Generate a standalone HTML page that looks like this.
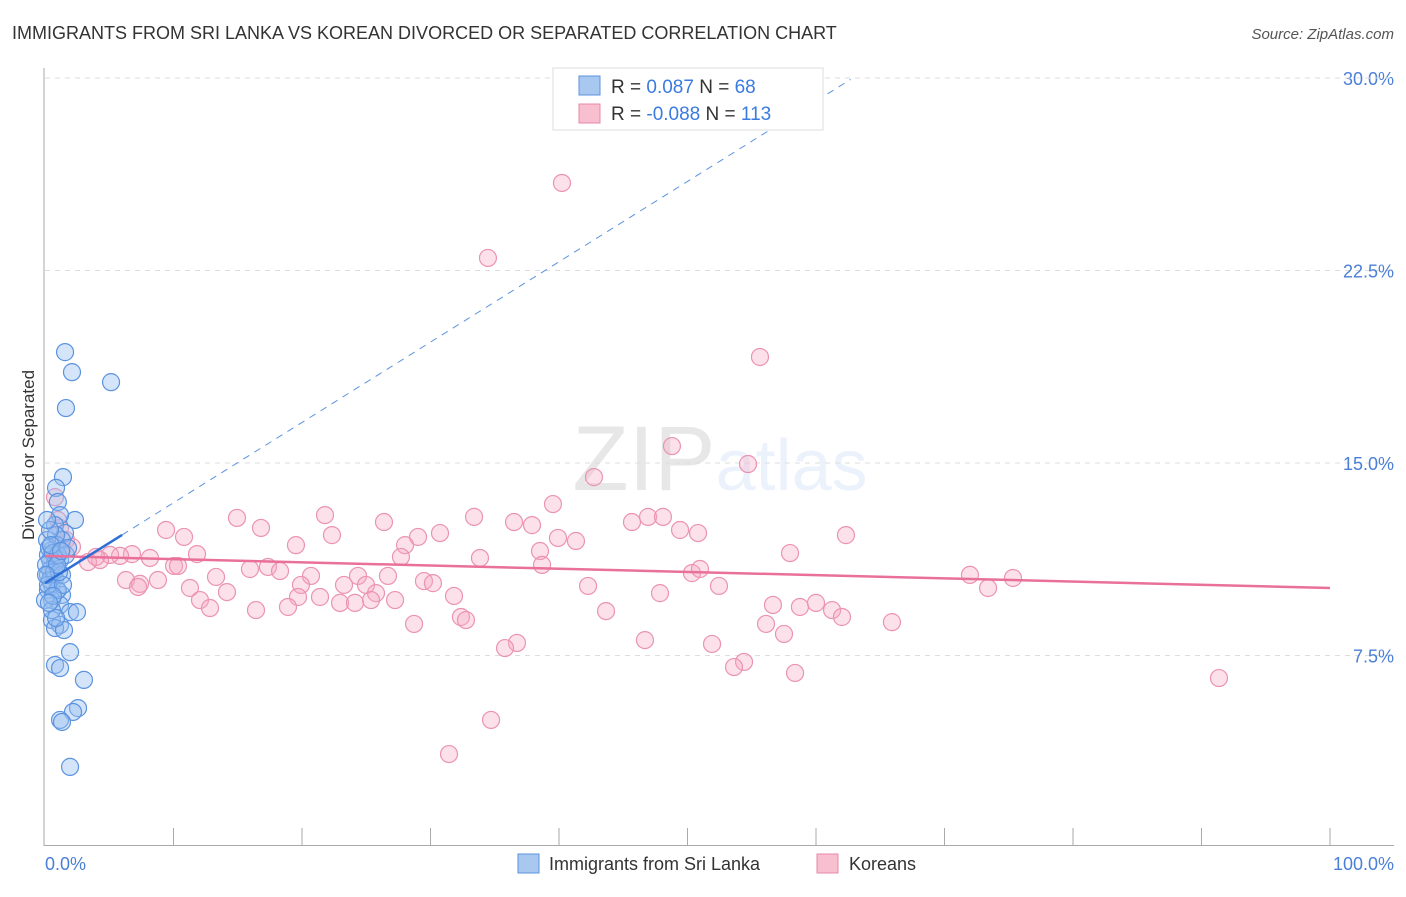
<!DOCTYPE html>
<html><head><meta charset="utf-8"><style>
body{margin:0;background:#fff;font-family:"Liberation Sans",sans-serif}
svg text{font-family:"Liberation Sans",sans-serif}
</style></head><body>
<svg id="chart" width="1406" height="892" xmlns="http://www.w3.org/2000/svg">
<text x="12" y="39" font-size="18" fill="#333">IMMIGRANTS FROM SRI LANKA VS KOREAN DIVORCED OR SEPARATED CORRELATION CHART</text>
<text x="1394" y="39" font-size="15" fill="#555" font-style="italic" text-anchor="end">Source: ZipAtlas.com</text>
<text x="720" y="490" font-size="92" text-anchor="middle" fill="#000" opacity="0.09" font-family="Liberation Serif">ZIP<tspan fill="#3a7be0" opacity="1" font-family="Liberation Sans" font-size="72">atlas</tspan></text>
<g id="grid"></g>
<g id="axes"></g>
<g id="pts"></g>
<g id="lines"></g>
<text transform="translate(34,455) rotate(-90)" font-size="17" fill="#333" text-anchor="middle">Divorced or Separated</text>
<text x="45" y="870" font-size="18" fill="#4a7fd8">0.0%</text>
<text x="1394" y="870" font-size="18" fill="#4a7fd8" text-anchor="end">100.0%</text>
<g>
<rect x="553" y="68" width="270" height="62" fill="#fff" stroke="#ddd"/>
<rect x="579" y="76" width="21" height="19" fill="#a9c8f0" stroke="#5b93e0"/>
<rect x="579" y="104" width="21" height="19" fill="#f7bfd0" stroke="#e889a8"/>
<text x="611" y="93" font-size="19" fill="#333">R =  <tspan fill="#3a7be0">  0.087</tspan>    N =  <tspan fill="#3a7be0"> 68</tspan></text>
<text x="611" y="120" font-size="19" fill="#333">R = <tspan fill="#3a7be0"> -0.088</tspan>    N = <tspan fill="#3a7be0">113</tspan></text>
</g>
<g>
<rect x="518" y="854" width="21" height="19" fill="#a9c8f0" stroke="#5b93e0"/>
<text x="549" y="870" font-size="18" fill="#333">Immigrants from Sri Lanka</text></g>
<g>
<rect x="817" y="854" width="21" height="19" fill="#f7bfd0" stroke="#e889a8"/>
<text x="849" y="870" font-size="18" fill="#333">Koreans</text></g>
</svg>
<script>
const yTicks=[7.5,15,22.5,30];
const xTicks=[10,20,30,40,50,60,70,80,90,100];
const blueX=[1.56,2.1,5.14,1.63,1.4,0.86,1.0,2.33,1.17,0.78,1.56,1.32,0.93,0.54,0.23,0.39,0.78,1.17,0.39,0.23,0.78,0.54,0.23,0.93,1.32,0.54,1.17,1.95,0.54,1.17,0.78,1.48,2.49,1.0,1.95,0.78,1.17,3.03,2.57,2.18,1.17,1.32,1.95,0.16,0.31,0.62,0.08,0.39,0.7,1.32,1.63,0,1.0,0.86,0.39,0.16,0.54,0.86,0.23,1.4,1.79,1.09,0.47,0.62,0.93,0.08,1.25,0.31];
const blueY=[19.32,18.54,18.15,17.14,14.45,14.03,13.48,12.78,12.97,12.58,12.27,12.0,11.8,11.61,11.42,11.22,11.1,11.22,10.83,10.64,10.52,10.25,10.05,10.05,9.86,9.66,9.47,9.19,8.88,8.69,8.57,8.49,9.19,10.05,7.63,7.13,7.01,6.55,5.45,5.3,4.99,4.91,3.16,12.0,11.69,11.49,11.03,10.44,10.75,10.64,11.42,9.66,11.42,12.19,12.39,12.78,9.27,8.96,10.25,10.25,11.69,10.75,11.8,9.82,11.03,10.64,11.57,9.55];
const pinkX=[40.23,34.47,55.64,48.79,54.71,42.72,39.53,14.94,21.79,26.38,33.39,36.5,37.9,45.68,46.93,48.09,49.42,50.82,62.33,9.42,10.82,16.81,19.53,22.33,29.03,30.74,39.92,41.32,38.52,33.85,11.83,28.02,27.7,57.98,8.17,6.77,5.84,5.06,4.28,3.35,3.97,1.63,1.17,1.0,0.78,1.32,2.1,10.04,10.35,15.95,17.35,18.29,6.3,8.79,7.39,13.31,20.7,24.36,26.69,29.49,30.19,38.68,50.35,50.97,71.98,75.33,73.39,42.26,52.45,7.24,11.28,14.16,19.92,19.69,21.4,23.27,24.98,25.76,25.37,31.83,47.86,12.06,12.84,16.42,18.91,22.96,24.12,27.24,43.66,56.65,58.75,60.0,61.25,62.02,32.37,32.76,28.72,56.11,57.51,65.91,36.73,35.8,46.69,51.91,54.4,53.62,58.37,91.36,34.71,31.44];
const pinkY=[25.91,22.99,19.13,15.66,14.96,14.45,13.4,12.86,12.97,12.7,12.9,12.7,12.58,12.7,12.9,12.9,12.39,12.27,12.19,12.39,12.12,12.47,11.8,12.19,12.12,12.27,12.08,11.96,11.57,11.3,11.45,11.8,11.34,11.49,11.3,11.45,11.38,11.42,11.22,11.14,11.34,12.0,12.47,12.78,13.67,11.65,11.73,10.99,10.99,10.87,10.95,10.79,10.44,10.44,10.29,10.56,10.6,10.6,10.6,10.4,10.32,11.03,10.71,10.87,10.64,10.52,10.13,10.21,10.21,10.17,10.13,9.97,10.25,9.78,9.78,10.25,10.25,9.93,9.66,9.82,9.93,9.66,9.35,9.27,9.39,9.55,9.55,9.66,9.23,9.47,9.39,9.55,9.27,9.0,9.0,8.88,8.73,8.73,8.34,8.8,7.99,7.79,8.1,7.95,7.25,7.05,6.82,6.62,4.99,3.66];
const blueFit=[10.32,0.313];
const pinkFit=[11.38,-0.0125];
const NS='http://www.w3.org/2000/svg';
const X=v=>45+v*12.85, Y=v=>848-v*25.667;
function mk(tag,a,parent){const e=document.createElementNS(NS,tag);for(const k in a)e.setAttribute(k,a[k]);document.getElementById(parent).appendChild(e);return e;}
yTicks.forEach(t=>{
 const l=mk('line',{x1:45,x2:1394,y1:Y(t),y2:Y(t),stroke:'#ddd','stroke-dasharray':'5,5'},'grid');
 
 
 const tx=mk('text',{x:1394,y:Y(t)+7,'font-size':18,fill:'#4a7fd8','text-anchor':'end'},'grid');tx.textContent=t.toFixed(1)+'%';
 
 
});
const tl=mk('line',{x1:45,x2:1394,y1:78,y2:78,stroke:'#ddd','stroke-dasharray':'5,5'},'grid');


const ya=mk('line',{x1:44,x2:44,y1:68,y2:846,stroke:'#aaa'},'axes');


const xa=mk('line',{x1:44,x2:1394,y1:845.5,y2:845.5,stroke:'#aaa'},'axes');


xTicks.forEach(t=>{const l=mk('line',{x1:X(t),x2:X(t),y1:828,y2:846,stroke:'#aaa'},'axes');
 
 });
pinkX.forEach((x,i)=>{const c=mk('circle',{cx:X(x),cy:Y(pinkY[i]),r:8.5,fill:'rgba(245,170,195,0.35)',stroke:'#eb93b1','stroke-width':1.2},'pts');
 
 });
blueX.forEach((x,i)=>{const c=mk('circle',{cx:X(x),cy:Y(blueY[i]),r:8.5,fill:'rgba(150,190,240,0.4)',stroke:'#5b93e0','stroke-width':1.2},'pts');
 
 });
const pl=mk('line',{x1:X(0),y1:Y(pinkFit[0]),x2:X(100),y2:Y(pinkFit[0]+pinkFit[1]*100),stroke:'#e8709a','stroke-width':2.5},'lines');


const bd=mk('line',{x1:X(6),y1:Y(blueFit[0]+blueFit[1]*6),x2:X(62.7),y2:Y(blueFit[0]+blueFit[1]*62.7),stroke:'#5b93e0','stroke-width':1,'stroke-dasharray':'7,6'},'lines');


const bl=mk('line',{x1:X(0),y1:Y(blueFit[0]),x2:X(6),y2:Y(blueFit[0]+blueFit[1]*6),stroke:'#2e6fd6','stroke-width':2.5},'lines');


</script>
</body></html>
